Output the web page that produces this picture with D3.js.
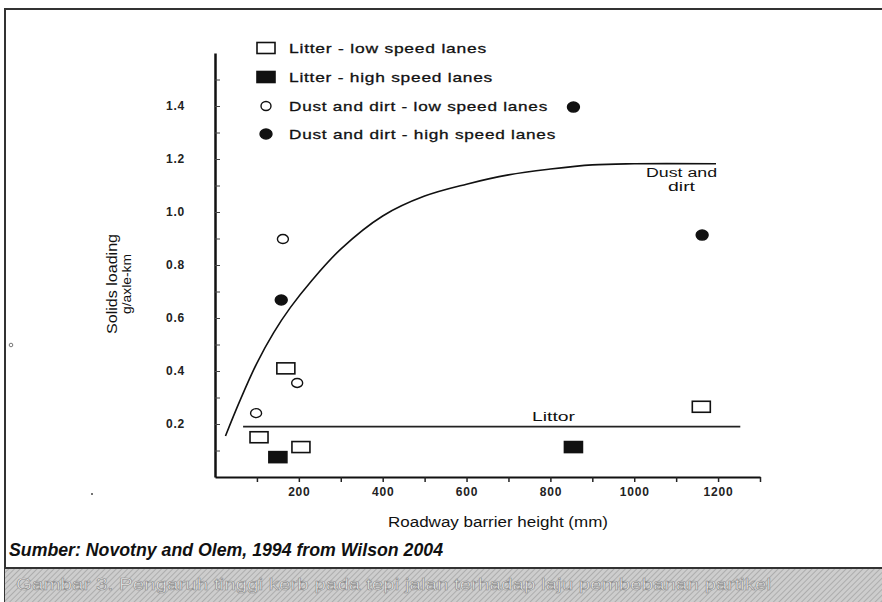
<!DOCTYPE html>
<html>
<head>
<meta charset="utf-8">
<script src="https://cdn.jsdelivr.net/npm/d3@7"></script>
<style>
  body { margin: 0; background: #fff; }
  svg { display: block; font-family: 'Liberation Sans', Arial, sans-serif; }
</style>
</head>
<body>
<div id="wrapper"></div>
<script>
// Data
const litterLowX = [105, 169, 205, 1160];
const litterLowY = [0.15, 0.41, 0.113, 0.265];
const litterHighX = [150, 855];
const litterHighY = [0.075, 0.113];
const dustLowX = [98, 162, 196];
const dustLowY = [0.241, 0.898, 0.355];
const dustHighX = [158, 855, 1162];
const dustHighY = [0.668, 1.396, 0.913];

// fitted curve (dust and dirt) and flat line (litter)
const dustCurveX = [25, 60, 100, 140, 180, 230, 300, 400, 500, 600, 700, 800, 900, 1000, 1195];
const dustCurveY = [0.155, 0.29, 0.43, 0.545, 0.64, 0.74, 0.86, 0.985, 1.06, 1.105, 1.14, 1.162, 1.178, 1.182, 1.182];
const litterLineX = [67, 1253];
const litterLineY = [0.19, 0.19];

const xTicks = [100, 200, 300, 400, 500, 600, 700, 800, 900, 1000, 1100, 1200, 1300];
const yTicks = [0.1, 0.2, 0.3, 0.4, 0.5, 0.6, 0.7, 0.8, 0.9, 1.0, 1.1, 1.2, 1.3, 1.4, 1.5];

const legendLabels = [
  'Litter - low speed lanes',
  'Litter - high speed lanes',
  'Dust and dirt - low speed lanes',
  'Dust and dirt - high speed lanes',
];
const legendWidths = [198, 204, 259, 267];

const width = 882;
const height = 602;

const svg = d3
  .select('#wrapper')
  .append('svg')
  .attr('width', width)
  .attr('height', height);

// frame
svg.append('path')
  .attr('d', 'M5,602 L5,9 L882,9')
  .attr('fill', 'none')
  .attr('stroke', '#333')
  .attr('stroke-width', 2);

// stray scan marks
svg.append('circle').attr('cx', 11).attr('cy', 345).attr('r', 1.8)
  .attr('fill', 'none').attr('stroke', '#555').attr('stroke-width', 0.8);
svg.append('circle').attr('cx', 92).attr('cy', 494).attr('r', 1)
  .attr('fill', '#444');

// Scales
const xScale = d3.scaleLinear().domain([0, 1300]).range([215, 760]);
const yScale = d3.scaleLinear().domain([0, 1.6]).range([477, 53]);

// Axes
const xAxis = d3
  .axisBottom(xScale)
  .tickValues(xTicks)
  .tickSizeInner(5)
  .tickSizeOuter(0)
  .tickPadding(5)
  .tickFormat((d) => (d % 200 === 0 && d <= 1200 ? d : ''));

svg
  .append('g')
  .attr('id', 'x-axis')
  .attr('transform', `translate(0, ${yScale(0)})`)
  .call(xAxis)
  .call((g) => g.select('.domain').attr('stroke', '#111').attr('stroke-width', 2))
  .call((g) => g.selectAll('.tick line').attr('stroke', '#222').attr('stroke-width', 1.5))
  .call((g) =>
    g.selectAll('.tick text')
      .attr('fill', '#222')
      .style('font-size', '12px')
      .style('font-weight', 'bold')
      .style('letter-spacing', '0.8px')
  );

const yAxis = d3
  .axisLeft(yScale)
  .tickValues(yTicks)
  .tickSizeInner(-5)
  .tickSizeOuter(0)
  .tickPadding(30)
  .tickFormat((d) => (Math.round(d * 10) % 2 === 0 ? d3.format('.1f')(d) : ''));

svg
  .append('g')
  .attr('id', 'y-axis')
  .attr('transform', `translate(${xScale(0)}, 0)`)
  .call(yAxis)
  .call((g) => g.select('.domain').attr('stroke', '#111').attr('stroke-width', 2.5))
  .call((g) => g.selectAll('.tick line').attr('stroke', '#444').attr('stroke-width', 1))
  .call((g) =>
    g.selectAll('.tick text')
      .attr('fill', '#222')
      .style('font-size', '12px')
      .style('font-weight', 'bold')
      .style('letter-spacing', '0.8px')
  );

// axis labels
svg.append('text')
  .attr('x', 388)
  .attr('y', 527)
  .attr('fill', '#111')
  .attr('textLength', 220)
  .attr('lengthAdjust', 'spacingAndGlyphs')
  .style('font-size', '14px')
  .text('Roadway barrier height (mm)');

const yLabel = svg.append('g').attr('transform', 'translate(117, 284) rotate(-90)');
yLabel.append('text')
  .attr('x', -50)
  .attr('fill', '#111')
  .attr('textLength', 100)
  .attr('lengthAdjust', 'spacingAndGlyphs')
  .style('font-size', '14px')
  .text('Solids loading');
yLabel.append('text')
  .attr('x', -30)
  .attr('y', 14)
  .attr('fill', '#111')
  .attr('textLength', 60)
  .attr('lengthAdjust', 'spacingAndGlyphs')
  .style('font-size', '13px')
  .text('g/axle-km');

// Lines
const line = d3
  .line()
  .x((d) => xScale(d[0]))
  .y((d) => yScale(d[1]))
  .curve(d3.curveCatmullRom);

svg.append('path')
  .datum(d3.zip(dustCurveX, dustCurveY))
  .attr('d', line)
  .attr('fill', 'none')
  .attr('stroke', '#111')
  .attr('stroke-width', 1.6);

svg.append('path')
  .datum(d3.zip(litterLineX, litterLineY))
  .attr('d', line)
  .attr('fill', 'none')
  .attr('stroke', '#222')
  .attr('stroke-width', 1.6);

svg.append('text')
  .attr('x', 532)
  .attr('y', 421)
  .attr('fill', '#111')
  .attr('textLength', 43)
  .attr('lengthAdjust', 'spacingAndGlyphs')
  .style('font-size', '13px')
  .text('Littor');

svg.append('text')
  .attr('x', 646).attr('y', 177)
  .attr('fill', '#111')
  .attr('textLength', 71)
  .attr('lengthAdjust', 'spacingAndGlyphs')
  .style('font-size', '12px')
  .text('Dust and');
svg.append('text')
  .attr('x', 668).attr('y', 191)
  .attr('fill', '#111')
  .attr('textLength', 27)
  .attr('lengthAdjust', 'spacingAndGlyphs')
  .style('font-size', '12px')
  .text('dirt');

// Markers
function drawRects(xs, ys, filled) {
  svg.append('g')
    .selectAll('rect')
    .data(d3.zip(xs, ys))
    .join('rect')
    .attr('x', (d) => xScale(d[0]) - 9)
    .attr('y', (d) => yScale(d[1]) - 5.5)
    .attr('width', 18)
    .attr('height', 11)
    .attr('fill', filled ? '#111' : '#fff')
    .attr('stroke', '#111')
    .attr('stroke-width', 1.6);
}

function drawCircles(xs, ys, filled) {
  svg.append('g')
    .selectAll('ellipse')
    .data(d3.zip(xs, ys))
    .join('ellipse')
    .attr('cx', (d) => xScale(d[0]))
    .attr('cy', (d) => yScale(d[1]))
    .attr('rx', filled ? 6 : 5.5)
    .attr('ry', filled ? 5 : 4.5)
    .attr('fill', filled ? '#111' : '#fff')
    .attr('stroke', '#111')
    .attr('stroke-width', 1.4);
}

drawRects(litterLowX, litterLowY, false);
drawRects(litterHighX, litterHighY, true);
drawCircles(dustLowX, dustLowY, false);
drawCircles(dustHighX, dustHighY, true);

// Legend
const legendY = [48, 77, 106, 134];
const legend = svg.append('g');
legendLabels.forEach((label, i) => {
  const y = legendY[i];
  if (i < 2) {
    legend.append('rect')
      .attr('x', 257).attr('y', y - 5.5)
      .attr('width', 18).attr('height', 11)
      .attr('fill', i === 1 ? '#111' : '#fff')
      .attr('stroke', '#111').attr('stroke-width', 1.6);
  } else {
    legend.append('ellipse')
      .attr('cx', 266).attr('cy', y)
      .attr('rx', i === 3 ? 6 : 5).attr('ry', i === 3 ? 5 : 4.5)
      .attr('fill', i === 3 ? '#111' : '#fff')
      .attr('stroke', '#111').attr('stroke-width', 1.4);
  }
  legend.append('text')
    .attr('x', 289)
    .attr('y', y + 5)
    .attr('fill', '#111')
    .attr('stroke', '#111')
    .attr('stroke-width', 0.3)
    .attr('textLength', legendWidths[i])
    .attr('lengthAdjust', 'spacingAndGlyphs')
    .style('font-size', '13.5px')
    .style('letter-spacing', '0.6px')
    .text(label);
});

// Source caption
svg.append('text')
  .attr('x', 9)
  .attr('y', 556)
  .attr('fill', '#111')
  .attr('textLength', 434)
  .attr('lengthAdjust', 'spacingAndGlyphs')
  .style('font-size', '19px')
  .style('font-style', 'italic')
  .style('font-weight', 'bold')
  .text('Sumber: Novotny and Olem, 1994 from Wilson 2004');

// figure caption band
const defs = svg.append('defs');
const pat = defs.append('pattern')
  .attr('id', 'hatch')
  .attr('width', 4).attr('height', 4)
  .attr('patternUnits', 'userSpaceOnUse')
  .attr('patternTransform', 'rotate(45)');
pat.append('rect').attr('width', 4).attr('height', 4).attr('fill', '#cdcdcd');
pat.append('line').attr('x1', 0).attr('y1', 0).attr('x2', 0).attr('y2', 4)
  .attr('stroke', '#a2a2a2').attr('stroke-width', 1.5);

svg.append('rect')
  .attr('x', 5).attr('y', 568)
  .attr('width', 877).attr('height', 34)
  .attr('fill', 'url(#hatch)');
svg.append('line')
  .attr('x1', 5).attr('x2', 882).attr('y1', 568).attr('y2', 568)
  .attr('stroke', '#333').attr('stroke-width', 2);

svg.append('text')
  .attr('x', 16)
  .attr('y', 590)
  .attr('fill', '#eeeeee')
  .attr('stroke', '#8a8a8a')
  .attr('stroke-width', 0.6)
  .attr('textLength', 755)
  .attr('lengthAdjust', 'spacingAndGlyphs')
  .style('font-size', '17px')
  .text('Gambar 3. Pengaruh tinggi kerb pada tepi jalan terhadap laju pembebanan partikel');
</script>
</body>
</html>
